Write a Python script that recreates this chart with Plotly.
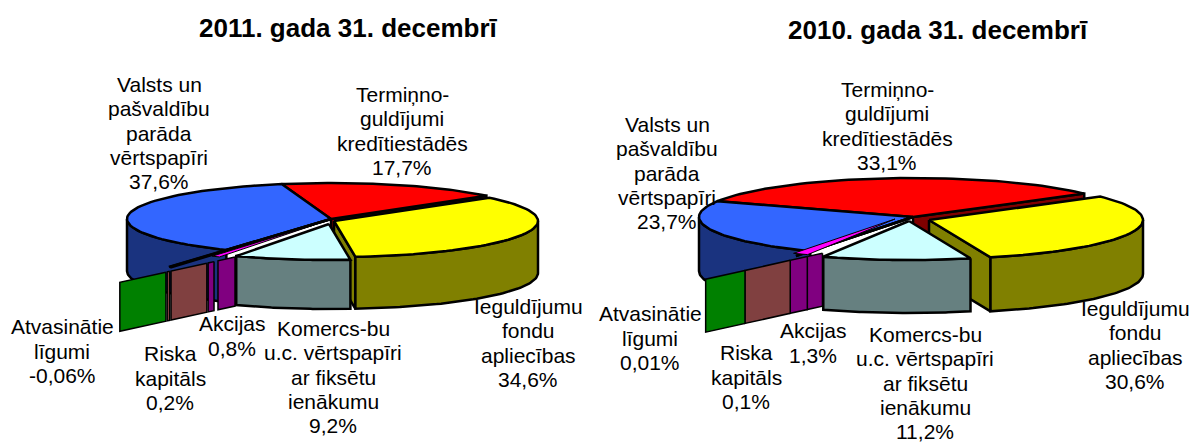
import numpy as np
import plotly.graph_objects as go

# ---- data ----
SLICE_KEYS = ["termin", "ieguld", "komerc", "akcijas", "riska", "atvas", "valsts"]
NAMES = [
    ["Termiņno-", "guldījumi", "kredītiestādēs"],
    ["Ieguldījumu", "fondu", "apliecības"],
    ["Komercs-bu", "u.c. vērtspapīri", "ar fiksētu", "ienākumu"],
    ["Akcijas"],
    ["Riska", "kapitāls"],
    ["Atvasinātie", "līgumi"],
    ["Valsts un", "pašvaldību", "parāda", "vērtspapīri"],
]
VALUES_2011 = [17.7, 34.6, 9.2, 0.8, 0.2, -0.06, 37.6]
VALUES_2010 = [33.1, 30.6, 11.2, 1.3, 0.1, 0.01, 23.7]
VALUE_TEXT_2011 = ["17,7%", "34,6%", "9,2%", "0,8%", "0,2%", "-0,06%", "37,6%"]
VALUE_TEXT_2010 = ["33,1%", "30,6%", "11,2%", "1,3%", "0,1%", "0,01%", "23,7%"]
TITLE_2011 = "2011. gada 31. decembrī"
TITLE_2010 = "2010. gada 31. decembrī"

# ---- style ----
TOP = dict(termin="#FF0000", ieguld="#FFFF00", komerc="#CCFFFF", akcijas="#FF00FF",
           riska="#000000", atvas="#000000", valsts="#3366FF")
SIDE = dict(termin="#800000", ieguld="#808000", komerc="#668080", akcijas="#800080",
            riska="#804040", atvas="#008000", valsts="#1A337F")
FONT = "Liberation Sans, Arial, sans-serif"
LABEL_SIZE = 21
TITLE_SIZE = 26
LINE_PITCH = 24.2
EDGE = 2.5

STYLE_2011 = dict(
    cx=331, cy=219, rx=204, ry=36, depth=52, start=-14,
    off_ieguld=(3, 2), off_komerc=(-2, 5), off_akcijas=(-17, 6),
    spike=1.55, ray_apex=(331, 236), ray_shift=8,
    walls=[("akcijas", .75, .883), ("akcijas", .914, .96), ("riska", .97, 1.25),
           ("riska", 1.26, 1.28), ("atvas", 1.29, 1.65)],
    wall_depth=49,
    title_xy=(348, 28),
    label_xy=[(402, 131), (528, 343), (333, 377), (232, 336), (170, 378), (62, 351), (159, 133)],
)
STYLE_2010 = dict(
    cx=913, cy=217, rx=214, ry=39, depth=54, start=-66,
    off_ieguld=(16, 3), off_komerc=(-4, 4), off_akcijas=(-18, 2),
    spike=1.14, ray_apex=(913, 233), ray_shift=10.6,
    walls=[("akcijas", .668, .78), ("akcijas", .78, .906), ("riska", .906, 1.24),
           ("atvas", 1.24, 1.53)],
    wall_depth=53,
    title_xy=(938, 30),
    label_xy=[(887, 126), (1135, 345), (925, 383), (813, 343), (746, 377), (650, 338), (667, 173)],
)


def rim(s, t, off=(0, 0), r=1.0, dy=0):
    t = np.radians(t)
    return (s["cx"] + off[0] + r * s["rx"] * np.sin(t),
            s["cy"] + off[1] + r * s["ry"] * -np.cos(t) + dy)


def poly(fig, xs, ys, color, width=EDGE):
    fig.add_trace(go.Scatter(
        x=list(xs), y=list(ys), mode="lines", fill="toself", fillcolor=color,
        line=dict(color="#000000", width=width), hoverinfo="skip", showlegend=False))


def wedge(fig, s, t0, t1, color, off=(0, 0), r=1.0, width=EDGE):
    ts = np.linspace(t0, t1, 60)
    x, y = rim(s, ts, off, r)
    ax, ay = s["cx"] + off[0], s["cy"] + off[1]
    poly(fig, [ax, *x, ax], [ay, *y, ay], color, width)


def outer_wall(fig, s, t0, t1, color, off=(0, 0), depth=None):
    depth = s["depth"] if depth is None else depth
    ts = np.linspace(t0, t1, 60)
    x, y = rim(s, ts, off)
    poly(fig, [*x, *x[::-1], x[0]], [*y, *(y[::-1] + depth), y[0]], color)


def radial_wall(fig, s, t, color, off=(0, 0)):
    ax, ay = s["cx"] + off[0], s["cy"] + off[1]
    x, y = rim(s, t, off)
    d = s["depth"]
    poly(fig, [ax, x, x, ax, ax], [ay, y, y + d, ay + d, ay], color)


def draw_pie(fig, values, texts, title, s):
    fractions = np.abs(values) / np.abs(values).sum()
    edges = s["start"] + 360 * np.concatenate([[0], np.cumsum(fractions)])
    span = {k: (edges[i], edges[i + 1]) for i, k in enumerate(SLICE_KEYS)}

    radial_wall(fig, s, span["termin"][1], SIDE["termin"])
    radial_wall(fig, s, span["ieguld"][1], SIDE["ieguld"], s["off_ieguld"])
    outer_wall(fig, s, 90, span["ieguld"][1], SIDE["ieguld"], s["off_ieguld"])
    wedge(fig, s, *span["ieguld"], TOP["ieguld"], s["off_ieguld"])
    wedge(fig, s, *span["termin"], TOP["termin"])
    outer_wall(fig, s, span["valsts"][0], 270, SIDE["valsts"])
    wedge(fig, s, *span["valsts"], TOP["valsts"])
    outer_wall(fig, s, *span["komerc"], SIDE["komerc"], s["off_komerc"], s["wall_depth"])
    wedge(fig, s, *span["komerc"], TOP["komerc"], s["off_komerc"])

    # the small slices are seen as faces along a ray running to the lower left
    ray = span["valsts"][0] + s["ray_shift"]
    dx = s["rx"] * np.sin(np.radians(ray))
    dy = -s["ry"] * np.cos(np.radians(ray))
    ax, ay = s["ray_apex"]
    for key, r0, r1 in s["walls"]:
        x0, y0, x1, y1 = ax + r0 * dx, ay + r0 * dy, ax + r1 * dx, ay + r1 * dy
        d = s["wall_depth"]
        poly(fig, [x0, x1, x1, x0, x0], [y0, y1, y1 + d, y0 + d, y0], SIDE[key], 1.5)

    wedge(fig, s, *span["riska"], TOP["riska"], r=s["spike"])
    wedge(fig, s, *span["atvas"], TOP["atvas"], r=s["spike"])
    wedge(fig, s, *span["akcijas"], TOP["akcijas"], s["off_akcijas"], width=1)

    fig.add_annotation(x=s["title_xy"][0], y=s["title_xy"][1], text=f"<b>{title}</b>",
                       showarrow=False, font=dict(family=FONT, size=TITLE_SIZE, color="#000000"))
    for name, text, (x, y) in zip(NAMES, texts, s["label_xy"]):
        lines = [*name, text]
        first = y - LINE_PITCH * (len(lines) - 1) / 2
        for i, line in enumerate(lines):
            fig.add_annotation(x=x, y=first + i * LINE_PITCH, text=line, showarrow=False,
                               font=dict(family=FONT, size=LABEL_SIZE, color="#000000"))


fig = go.Figure()
draw_pie(fig, np.array(VALUES_2011), VALUE_TEXT_2011, TITLE_2011, STYLE_2011)
draw_pie(fig, np.array(VALUES_2010), VALUE_TEXT_2010, TITLE_2010, STYLE_2010)
fig.update_layout(
    width=1192, height=442, margin=dict(l=0, r=0, t=0, b=0),
    paper_bgcolor="#FFFFFF", plot_bgcolor="#FFFFFF", showlegend=False,
    xaxis=dict(range=[0, 1192], visible=False, fixedrange=True),
    yaxis=dict(range=[442, 0], visible=False, fixedrange=True),
)
fig.write_html("out.html", config=dict(displayModeBar=False),
               post_script="document.body.style.margin='0';document.body.style.overflow='hidden';")
